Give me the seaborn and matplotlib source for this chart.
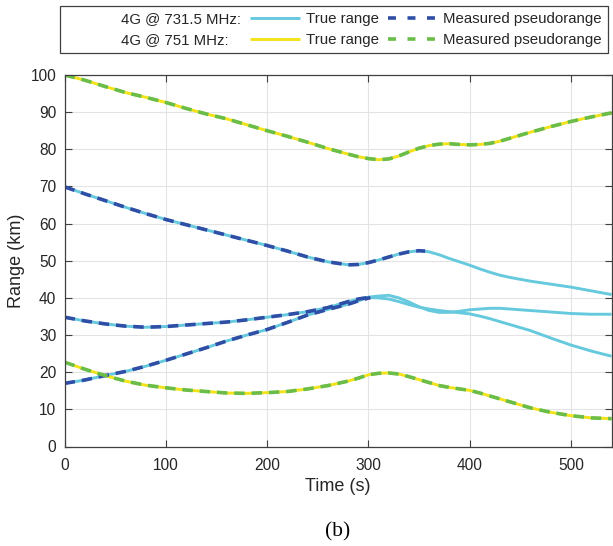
import matplotlib
matplotlib.use("Agg")
import matplotlib.pyplot as plt
from matplotlib.lines import Line2D
import seaborn as sns
import pandas as pd

# ---------------- data ----------------
time_s = [0, 20, 40, 60, 80, 100, 120, 140, 160, 180, 200, 220, 240, 260, 280,
          290, 300, 310, 320, 330, 340, 350, 360, 370, 380, 390, 400, 410, 420, 430,
          440, 460, 480, 500, 520, 540]

# 4G @ 731.5 MHz - true range (km)
b1_true = [69.9, 68.0, 66.2, 64.4, 62.7, 61.1, 59.7, 58.3, 56.9, 55.5, 54.1, 52.6, 51.0, 49.7, 48.9,
           49.0, 49.5, 50.2, 51.0, 51.8, 52.4, 52.7, 52.4, 51.6, 50.6, 49.7, 48.8, 47.8, 46.9, 46.1,
           45.5, 44.5, 43.7, 42.9, 41.9, 40.9]
b2_true = [34.8, 33.8, 33.0, 32.4, 32.1, 32.3, 32.7, 33.1, 33.5, 34.1, 34.8, 35.5, 36.3, 37.4, 39.0,
           39.7, 40.2, 40.5, 40.7, 40.0, 38.9, 37.6, 36.6, 36.1, 36.1, 36.4, 36.8, 37.0, 37.2, 37.2,
           37.0, 36.6, 36.2, 35.8, 35.6, 35.6]
b3_true = [17.0, 17.9, 19.1, 20.2, 21.6, 23.2, 24.9, 26.6, 28.4, 30.0, 31.5, 33.4, 35.4, 36.9, 38.3,
           39.2, 40.1, 40.0, 39.7, 39.0, 38.2, 37.5, 37.0, 36.6, 36.3, 36.0, 35.7, 35.1, 34.4, 33.6,
           32.8, 31.2, 29.2, 27.3, 25.7, 24.3]

# 4G @ 751 MHz - true range (km)
y1_true = [100.0, 98.6, 96.9, 95.3, 94.0, 92.6, 91.0, 89.5, 88.2, 86.6, 85.0, 83.5, 81.9, 80.2, 78.7,
           78.0, 77.5, 77.2, 77.4, 78.2, 79.3, 80.3, 81.0, 81.4, 81.5, 81.3, 81.2, 81.3, 81.6, 82.2,
           83.0, 84.6, 86.1, 87.5, 88.7, 89.8]
y2_true = [22.7, 20.8, 19.1, 17.6, 16.5, 15.8, 15.2, 14.8, 14.4, 14.3, 14.5, 14.8, 15.5, 16.4, 17.6,
           18.4, 19.3, 19.7, 19.8, 19.5, 18.8, 18.0, 17.2, 16.4, 15.9, 15.5, 15.1, 14.4, 13.6, 12.8,
           12.0, 10.4, 9.2, 8.3, 7.7, 7.5]

# measured pseudoranges (km)
b1_meas_t = [0, 20, 40, 60, 80, 100, 120, 140, 160, 180, 200, 220, 240, 260, 280,
             290, 300, 310, 320, 330, 340, 350, 356]
b1_meas = [69.9, 68.0, 66.2, 64.4, 62.7, 61.1, 59.7, 58.3, 56.9, 55.5, 54.1, 52.6, 51.0, 49.7, 48.9,
           49.0, 49.5, 50.2, 51.0, 51.8, 52.4, 52.7, 52.6]
b23_meas_t = [0, 20, 40, 60, 80, 100, 120, 140, 160, 180, 200, 220, 240, 260, 280, 290, 302]
b2_meas = [34.8, 33.8, 33.0, 32.4, 32.1, 32.3, 32.7, 33.1, 33.5, 34.1, 34.8, 35.5, 36.3, 37.4, 39.0,
           39.7, 40.2]
b3_meas = [17.0, 17.9, 19.1, 20.2, 21.6, 23.2, 24.9, 26.6, 28.4, 30.0, 31.5, 33.4, 35.4, 36.9, 38.3,
           39.2, 40.1]
y1_meas = y1_true
y2_meas = y2_true

labels_freq = ["4G @ 731.5 MHz:", "4G @ 751 MHz:"]
label_true = "True range"
label_meas = "Measured pseudorange"

x_ticks = [0, 100, 200, 300, 400, 500]
y_ticks = [0, 10, 20, 30, 40, 50, 60, 70, 80, 90, 100]

# ---------------- style ----------------
sns.set_theme(style="white")
plt.rcParams["font.family"] = ["Liberation Sans", "DejaVu Sans"]
plt.rcParams["lines.solid_capstyle"] = "butt"
plt.rcParams["lines.solid_joinstyle"] = "round"

c_true_b = "#66C9DE"
c_meas_b = "#2F4EA6"
c_true_y = "#F2E21C"
c_meas_y = "#69BD48"
lw_true = 2.1
lw_meas = 2.6
dash = (0, (2.9, 1.9))

W, H = 613, 546
fig = plt.figure(figsize=(W / 100, H / 100), dpi=100)
fig.patch.set_facecolor("white")
x0, x1, y0, y1 = 64.6, 611.5, 75.0, 446.5
ax = fig.add_axes([x0 / W, 1 - y1 / H, (x1 - x0) / W, (y1 - y0) / H])

def line(t, v, color, lw, ls="-"):
    df = pd.DataFrame({"t": t, "v": v})
    sns.lineplot(data=df, x="t", y="v", color=color, linewidth=lw, linestyle=ls,
                 ax=ax, sort=False, estimator=None)

for v in (b1_true, b2_true, b3_true):
    line(time_s, v, c_true_b, lw_true)
for v in (y1_true, y2_true):
    line(time_s, v, c_true_y, lw_true)

line(b1_meas_t, b1_meas, c_meas_b, lw_meas, dash)
line(b23_meas_t, b2_meas, c_meas_b, lw_meas, dash)
line(b23_meas_t, b3_meas, c_meas_b, lw_meas, dash)
line(time_s, y1_meas, c_meas_y, lw_meas, dash)
line(time_s, y2_meas, c_meas_y, lw_meas, dash)

ax.set_xlim(0, 540)
ax.set_ylim(0, 100)
ax.set_xticks(x_ticks)
ax.set_yticks(y_ticks)
ax.set_xlabel("Time (s)", fontsize=13, color="#262626", labelpad=4)
ax.set_ylabel("Range (km)", fontsize=13, color="#262626", labelpad=4)
ax.tick_params(axis="both", which="both", direction="in", length=5, width=0.8,
               color="#404040", labelsize=11.2, labelcolor="#262626",
               top=True, right=True, bottom=True, left=True)
ax.tick_params(axis="x", pad=8)
ax.tick_params(axis="y", pad=6)
ax.grid(True, color="#E3E3E3", linewidth=0.8)
ax.set_axisbelow(True)
for s in ax.spines.values():
    s.set_visible(True)
    s.set_color("#404040")
    s.set_linewidth(0.9)

# ---------------- legend ----------------
blank = Line2D([], [], linestyle="none")
handles = [blank, blank,
           Line2D([], [], color=c_true_b, lw=lw_true),
           Line2D([], [], color=c_true_y, lw=lw_true),
           Line2D([], [], color=c_meas_b, lw=lw_meas, linestyle=(0, (2.2, 3.2))),
           Line2D([], [], color=c_meas_y, lw=lw_meas, linestyle=(0, (2.2, 3.2)))]
labels = [labels_freq[0], labels_freq[1], label_true, label_true, label_meas, label_meas]
leg = fig.legend(handles, labels, ncol=3, loc="upper right",
                 bbox_to_anchor=(608 / W, 1 - 6 / H), fontsize=10.8,
                 frameon=True, fancybox=False, framealpha=1,
                 edgecolor="#404040", handlelength=3.3, handletextpad=0.4,
                 columnspacing=0.6, labelspacing=0.45, borderpad=0.4,
                 borderaxespad=0)
leg.get_frame().set_linewidth(0.9)
for txt in leg.get_texts():
    txt.set_color("#262626")

fig.text(0.5 * (x0 + x1) / W, 1 - 532 / H, "(b)", ha="center", va="center",
         fontsize=15.5, family=["Liberation Serif", "DejaVu Serif"], color="#000000")

fig.savefig("out.png", dpi=100, facecolor="white")
